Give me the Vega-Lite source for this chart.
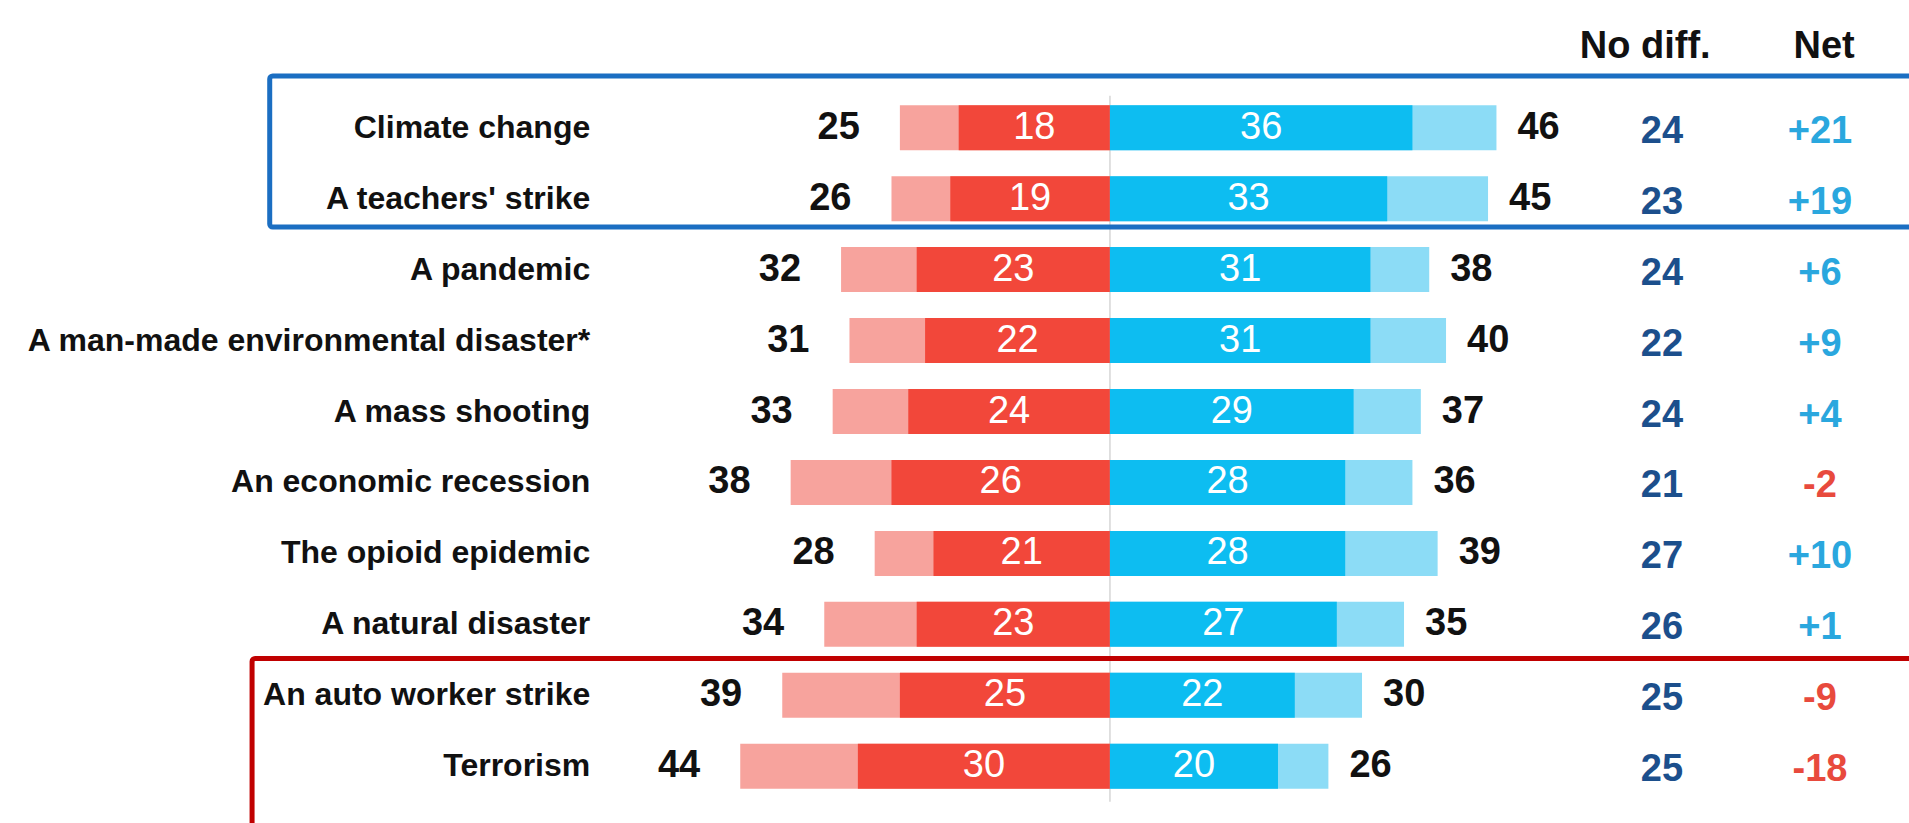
{
  "$schema": "https://vega.github.io/schema/vega-lite/v6.json",
  "width": 1909,
  "height": 823,
  "autosize": {"type": "none"},
  "padding": 0,
  "background": "white",
  "config": {
    "view": {"stroke": null},
    "text": {"font": "Liberation Sans"},
    "locale": {"number": {"decimal": ".", "thousands": ",", "grouping": [3], "currency": ["$", ""], "minus": "-"}}
  },
  "datasets": {
    "topics": [
      {"rank": 1, "topic": "Climate change", "less_strong": 18, "less_total": 25, "more_strong": 36, "more_total": 46, "no_diff": 24, "net": 21},
      {"rank": 2, "topic": "A teachers' strike", "less_strong": 19, "less_total": 26, "more_strong": 33, "more_total": 45, "no_diff": 23, "net": 19},
      {"rank": 3, "topic": "A pandemic", "less_strong": 23, "less_total": 32, "more_strong": 31, "more_total": 38, "no_diff": 24, "net": 6},
      {"rank": 4, "topic": "A man-made environmental disaster*", "less_strong": 22, "less_total": 31, "more_strong": 31, "more_total": 40, "no_diff": 22, "net": 9},
      {"rank": 5, "topic": "A mass shooting", "less_strong": 24, "less_total": 33, "more_strong": 29, "more_total": 37, "no_diff": 24, "net": 4},
      {"rank": 6, "topic": "An economic recession", "less_strong": 26, "less_total": 38, "more_strong": 28, "more_total": 36, "no_diff": 21, "net": -2},
      {"rank": 7, "topic": "The opioid epidemic", "less_strong": 21, "less_total": 28, "more_strong": 28, "more_total": 39, "no_diff": 27, "net": 10},
      {"rank": 8, "topic": "A natural disaster", "less_strong": 23, "less_total": 34, "more_strong": 27, "more_total": 35, "no_diff": 26, "net": 1},
      {"rank": 9, "topic": "An auto worker strike", "less_strong": 25, "less_total": 39, "more_strong": 22, "more_total": 30, "no_diff": 25, "net": -9},
      {"rank": 10, "topic": "Terrorism", "less_strong": 30, "less_total": 44, "more_strong": 20, "more_total": 26, "no_diff": 25, "net": -18}
    ],
    "headers": [
      {"header": "No diff."},
      {"header": "Net"}
    ],
    "highlights": [
      {"group": "top"},
      {"group": "bottom"}
    ]
  },
  "resolve": {"scale": {"x": "independent"}},
  "layer": [
    {
      "data": {"name": "headers"},
      "transform": [{"filter": "datum.header == 'No diff.'"}],
      "mark": {"type": "rule", "color": "#d6d6d6", "strokeWidth": 1.5},
      "encoding": {
        "x": {"datum": 0, "type": "quantitative", "scale": {"domain": [-132.1, 95.1], "nice": false, "zero": false}, "axis": null},
        "y": {"datum": 0.55, "type": "quantitative", "scale": {"domain": [-0.73, 10.73], "reverse": true, "nice": false, "zero": false}, "axis": null},
        "y2": {"datum": 10.5}
      }
    },
    {
      "data": {"name": "topics"},
      "mark": {"type": "bar", "orient": "horizontal", "size": 45, "color": "#f7a39d"},
      "encoding": {
        "y": {"field": "rank", "type": "quantitative", "scale": {"domain": [-0.73, 10.73], "reverse": true, "nice": false, "zero": false}, "axis": null},
        "x": {"field": "less_total", "type": "quantitative", "scale": {"domain": [-95.1, 132.1], "reverse": true, "nice": false, "zero": false}, "axis": null},
        "x2": {"datum": 0}
      }
    },
    {
      "data": {"name": "topics"},
      "mark": {"type": "bar", "orient": "horizontal", "size": 45, "color": "#f2473a"},
      "encoding": {
        "y": {"field": "rank", "type": "quantitative", "scale": {"domain": [-0.73, 10.73], "reverse": true, "nice": false, "zero": false}, "axis": null},
        "x": {"field": "less_strong", "type": "quantitative", "scale": {"domain": [-95.1, 132.1], "reverse": true, "nice": false, "zero": false}, "axis": null},
        "x2": {"datum": 0}
      }
    },
    {
      "data": {"name": "topics"},
      "mark": {"type": "bar", "orient": "horizontal", "size": 45, "color": "#8cdcf6"},
      "encoding": {
        "y": {"field": "rank", "type": "quantitative", "scale": {"domain": [-0.73, 10.73], "reverse": true, "nice": false, "zero": false}, "axis": null},
        "x": {"field": "more_total", "type": "quantitative", "scale": {"domain": [-132.1, 95.1], "nice": false, "zero": false}, "axis": null},
        "x2": {"datum": 0}
      }
    },
    {
      "data": {"name": "topics"},
      "mark": {"type": "bar", "orient": "horizontal", "size": 45, "color": "#0dbdf1"},
      "encoding": {
        "y": {"field": "rank", "type": "quantitative", "scale": {"domain": [-0.73, 10.73], "reverse": true, "nice": false, "zero": false}, "axis": null},
        "x": {"field": "more_strong", "type": "quantitative", "scale": {"domain": [-132.1, 95.1], "nice": false, "zero": false}, "axis": null},
        "x2": {"datum": 0}
      }
    },
    {
      "data": {"name": "topics"},
      "mark": {"type": "text", "fontSize": 38, "fontWeight": 500, "color": "white"},
      "encoding": {
        "y": {"field": "rank", "type": "quantitative", "scale": {"domain": [-0.73, 10.73], "reverse": true, "nice": false, "zero": false}, "axis": null},
        "x": {"field": "less_strong", "type": "quantitative", "scale": {"domain": [-190.2, 264.2], "reverse": true, "nice": false, "zero": false}, "axis": null},
        "text": {"field": "less_strong", "type": "quantitative"}
      }
    },
    {
      "data": {"name": "topics"},
      "mark": {"type": "text", "fontSize": 38, "fontWeight": 500, "color": "white"},
      "encoding": {
        "y": {"field": "rank", "type": "quantitative", "scale": {"domain": [-0.73, 10.73], "reverse": true, "nice": false, "zero": false}, "axis": null},
        "x": {"field": "more_strong", "type": "quantitative", "scale": {"domain": [-264.2, 190.2], "nice": false, "zero": false}, "axis": null},
        "text": {"field": "more_strong", "type": "quantitative"}
      }
    },
    {
      "data": {"name": "topics"},
      "mark": {"type": "text", "fontSize": 38, "fontWeight": "bold", "color": "#111111", "align": "right", "dx": -40},
      "encoding": {
        "y": {"field": "rank", "type": "quantitative", "scale": {"domain": [-0.73, 10.73], "reverse": true, "nice": false, "zero": false}, "axis": null},
        "x": {"field": "less_total", "type": "quantitative", "scale": {"domain": [-95.1, 132.1], "reverse": true, "nice": false, "zero": false}, "axis": null},
        "text": {"field": "less_total", "type": "quantitative"}
      }
    },
    {
      "data": {"name": "topics"},
      "mark": {"type": "text", "fontSize": 38, "fontWeight": "bold", "color": "#111111", "align": "left", "dx": 21},
      "encoding": {
        "y": {"field": "rank", "type": "quantitative", "scale": {"domain": [-0.73, 10.73], "reverse": true, "nice": false, "zero": false}, "axis": null},
        "x": {"field": "more_total", "type": "quantitative", "scale": {"domain": [-132.1, 95.1], "nice": false, "zero": false}, "axis": null},
        "text": {"field": "more_total", "type": "quantitative"}
      }
    },
    {
      "data": {"name": "topics"},
      "mark": {"type": "text", "fontSize": 32, "fontWeight": "bold", "color": "#111111", "align": "right"},
      "encoding": {
        "y": {"field": "rank", "type": "quantitative", "scale": {"domain": [-0.73, 10.73], "reverse": true, "nice": false, "zero": false}, "axis": null},
        "x": {"datum": -61.85, "type": "quantitative", "scale": {"domain": [-132.1, 95.1], "nice": false, "zero": false}, "axis": null},
        "text": {"field": "topic", "type": "nominal"}
      }
    },
    {
      "data": {"name": "topics"},
      "mark": {"type": "text", "fontSize": 38, "fontWeight": "bold", "color": "#1c4f8c", "align": "center", "dy": 4},
      "encoding": {
        "y": {"field": "rank", "type": "quantitative", "scale": {"domain": [-0.73, 10.73], "reverse": true, "nice": false, "zero": false}, "axis": null},
        "x": {"datum": 65.7, "type": "quantitative", "scale": {"domain": [-132.1, 95.1], "nice": false, "zero": false}, "axis": null},
        "text": {"field": "no_diff", "type": "quantitative"}
      }
    },
    {
      "data": {"name": "topics"},
      "mark": {"type": "text", "fontSize": 38, "fontWeight": "bold", "align": "center", "dy": 4},
      "encoding": {
        "y": {"field": "rank", "type": "quantitative", "scale": {"domain": [-0.73, 10.73], "reverse": true, "nice": false, "zero": false}, "axis": null},
        "x": {"datum": 84.5, "type": "quantitative", "scale": {"domain": [-132.1, 95.1], "nice": false, "zero": false}, "axis": null},
        "text": {"field": "net", "type": "quantitative", "format": "+d"},
        "color": {"condition": {"test": "datum.net < 0", "value": "#e84a3d"}, "value": "#2aa7de"}
      }
    },
    {
      "data": {"name": "headers"},
      "transform": [{"filter": "datum.header == 'No diff.'"}],
      "mark": {"type": "text", "fontSize": 38, "fontWeight": "bold", "color": "#111111", "align": "center"},
      "encoding": {
        "x": {"datum": 63.7, "type": "quantitative", "scale": {"domain": [-132.1, 95.1], "nice": false, "zero": false}, "axis": null},
        "y": {"datum": -0.136, "type": "quantitative", "scale": {"domain": [-0.73, 10.73], "reverse": true, "nice": false, "zero": false}, "axis": null},
        "text": {"field": "header", "type": "nominal"}
      }
    },
    {
      "data": {"name": "headers"},
      "transform": [{"filter": "datum.header == 'Net'"}],
      "mark": {"type": "text", "fontSize": 38, "fontWeight": "bold", "color": "#111111", "align": "center"},
      "encoding": {
        "x": {"datum": 85.0, "type": "quantitative", "scale": {"domain": [-132.1, 95.1], "nice": false, "zero": false}, "axis": null},
        "y": {"datum": -0.136, "type": "quantitative", "scale": {"domain": [-0.73, 10.73], "reverse": true, "nice": false, "zero": false}, "axis": null},
        "text": {"field": "header", "type": "nominal"}
      }
    },
    {
      "data": {"name": "highlights"},
      "transform": [{"filter": "datum.group == 'top'"}],
      "mark": {"type": "rect", "fillOpacity": 0, "stroke": "#1b6ec2", "strokeWidth": 5, "clip": true, "cornerRadius": 3},
      "encoding": {
        "x": {"datum": -100, "type": "quantitative", "scale": {"domain": [-132.1, 95.1], "nice": false, "zero": false}, "axis": null},
        "x2": {"datum": 130},
        "y": {"datum": 0.27, "type": "quantitative", "scale": {"domain": [-0.73, 10.73], "reverse": true, "nice": false, "zero": false}, "axis": null},
        "y2": {"datum": 2.4}
      }
    },
    {
      "data": {"name": "highlights"},
      "transform": [{"filter": "datum.group == 'bottom'"}],
      "mark": {"type": "rect", "fillOpacity": 0, "stroke": "#c00000", "strokeWidth": 5, "clip": true, "cornerRadius": 3},
      "encoding": {
        "x": {"datum": -102.1, "type": "quantitative", "scale": {"domain": [-132.1, 95.1], "nice": false, "zero": false}, "axis": null},
        "x2": {"datum": 130},
        "y": {"datum": 8.48, "type": "quantitative", "scale": {"domain": [-0.73, 10.73], "reverse": true, "nice": false, "zero": false}, "axis": null},
        "y2": {"datum": 12}
      }
    }
  ]
}
